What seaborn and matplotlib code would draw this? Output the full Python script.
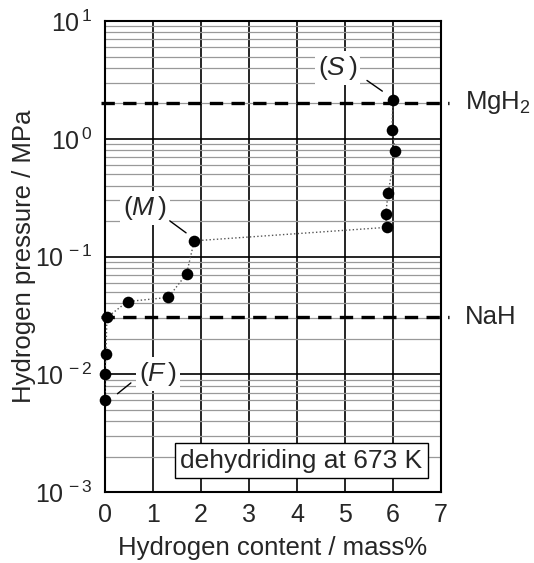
import numpy as np
import pandas as pd
import seaborn as sns
import matplotlib.pyplot as plt
from matplotlib.ticker import FixedLocator, FuncFormatter, NullFormatter

# datos (desorcion a 673 K)
contenido_h = [0.0, 0.0, 0.02, 0.04, 0.47, 1.32, 1.70, 1.86, 5.87, 5.85, 5.90, 6.05, 5.98, 6.0]
presion = [0.0061, 0.0101, 0.0150, 0.0304, 0.0415, 0.045, 0.0713, 0.136,
           0.177, 0.228, 0.345, 0.787, 1.18, 2.12]

# presiones de equilibrio de referencia
nombres_ref = ['MgH$_2$', 'NaH']
presion_ref = [2.02, 0.0308]

x_ticks = [0, 1, 2, 3, 4, 5, 6, 7]
decadas = [-3, -2, -1, 0, 1]

df = pd.DataFrame({'x': contenido_h, 'p': presion})

sns.set_style('white')
plt.rcParams['font.family'] = ['Liberation Sans', 'DejaVu Sans']
plt.rcParams['mathtext.fontset'] = 'custom'
plt.rcParams['mathtext.rm'] = 'Liberation Sans'
plt.rcParams['mathtext.it'] = 'Liberation Sans:italic'

fig = plt.figure(figsize=(5.34, 5.63), dpi=100)
ax = fig.add_axes([0.1966, 0.126, 0.629, 0.8366])

ax.set_yscale('log')
ax.set_xlim(0, 7)
ax.set_ylim(1e-3, 1e1)

# rejilla
ax.xaxis.set_major_locator(FixedLocator(x_ticks))
ax.yaxis.set_major_locator(FixedLocator([10.0 ** d for d in decadas]))
menores = [m * 10.0 ** d for d in decadas[:-1] for m in range(2, 10)]
ax.yaxis.set_minor_locator(FixedLocator(menores))
ax.yaxis.set_minor_formatter(NullFormatter())
ax.yaxis.set_major_formatter(FuncFormatter(lambda v, pos: r'$\mathregular{10^{\,%d}}$' % round(np.log10(v))))
ax.grid(True, which='major', axis='both', color='black', lw=1.2, zorder=0)
ax.grid(True, which='minor', axis='y', color='#999999', lw=0.9, zorder=0)
ax.set_axisbelow(True)
ax.tick_params(axis='x', which='both', length=0, labelsize=18, pad=8)
ax.tick_params(axis='y', which='both', length=0, labelsize=18, pad=9)
for s in ax.spines.values():
    s.set_color('black')
    s.set_linewidth(1.5)

# lineas de referencia
for nombre, p in zip(nombres_ref, presion_ref):
    ax.plot([-0.09, 7.17], [p, p], color='black', lw=2.4, ls=(0, (4, 2.5)), clip_on=False, zorder=3)
    ax.text(7.5, p, nombre, fontsize=18.5, va='center', ha='left')

sns.lineplot(data=df, x='x', y='p', sort=False, estimator=None, ax=ax,
             color='#555555', lw=1.0, ls=':', zorder=4)
sns.scatterplot(data=df, x='x', y='p', ax=ax, color='black', s=70,
                edgecolor='black', linewidth=0, zorder=5, clip_on=False)

# etiquetas (F), (M), (S)
caja = dict(facecolor='white', edgecolor='none', pad=2)
ax.text(1.11, 0.0100, r'$(\mathit{F}\,)$', fontsize=19, ha='center', va='center', bbox=caja, zorder=4)
ax.text(0.835, 0.259, r'$(\mathit{M}\,)$', fontsize=19, ha='center', va='center', bbox=caja, zorder=4)
ax.text(4.85, 4.0, r'$(\mathit{S}\,)$', fontsize=19, ha='center', va='center', bbox=caja, zorder=4)
ax.plot([0.54, 0.26], [0.00845, 0.00684], color='black', lw=1, zorder=4)
ax.plot([1.35, 1.69], [0.201, 0.159], color='black', lw=1, zorder=4)
ax.plot([5.46, 5.78], [3.13, 2.54], color='black', lw=1, zorder=4)

ax.text(4.09, 0.00184, 'dehydriding at 673 K', fontsize=19, ha='center', va='center',
        bbox=dict(facecolor='white', edgecolor='black', lw=1, pad=4), zorder=6)

ax.set_xlabel('Hydrogen content / mass%', fontsize=18.5, labelpad=6)
ax.set_ylabel('Hydrogen pressure / MPa', fontsize=18.5, labelpad=-1)

fig.savefig('out.png', dpi=100)
